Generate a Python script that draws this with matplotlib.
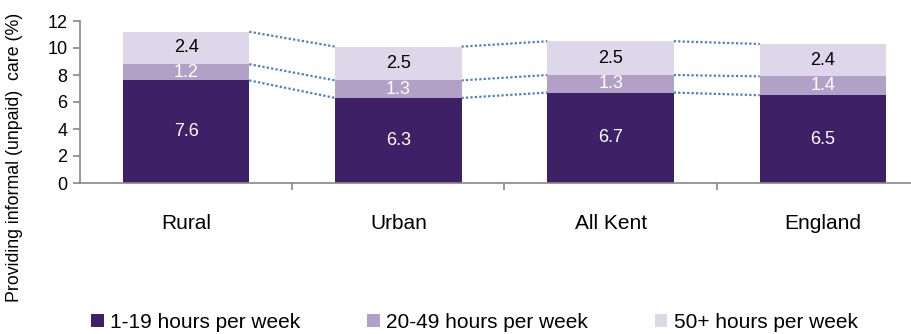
import matplotlib.pyplot as plt
import numpy as np

plt.rcParams['font.family'] = ['Liberation Sans', 'DejaVu Sans']

# stacked shares of people providing unpaid care, by area
areas = ['Rural', 'Urban', 'All Kent', 'England']
hrs_1_19 = [7.6, 6.3, 6.7, 6.5]
hrs_20_49 = [1.2, 1.3, 1.3, 1.4]
hrs_50_plus = [2.4, 2.5, 2.5, 2.4]
series_names = ['1-19 hours per week', '20-49 hours per week', '50+ hours per week']

colours = ['#3d2066', '#b1a1c7', '#ded7e9']
label_colours = ['white', 'white', 'black']

fig = plt.figure(figsize=(9.12, 3.34), dpi=100)
ax = fig.add_axes([80 / 912, 151 / 334, 1 - 80 / 912, 162 / 334])

x = np.arange(len(areas))
w = 0.595
bottoms = np.zeros(len(areas))
tops = []
for vals, col, tcol, name in zip([hrs_1_19, hrs_20_49, hrs_50_plus], colours, label_colours, series_names):
    vals = np.array(vals)
    ax.bar(x, vals, w, bottom=bottoms, color=col, label=name, zorder=2)
    for xi, b, v in zip(x, bottoms, vals):
        ax.text(xi, b + v / 2, f'{v:.1f}', ha='center', va='center', color=tcol, fontsize=13, zorder=3)
    bottoms = bottoms + vals
    tops.append(bottoms.copy())

# dotted series lines joining the bar edges
for lvl in tops:
    for i in range(len(areas) - 1):
        ax.plot([x[i] + w / 2, x[i + 1] - w / 2], [lvl[i], lvl[i + 1]],
                color='#4a7fc4', linestyle=(0, (1, 1)), linewidth=1.6, zorder=1)

ax.set_xlim(-0.5, 3.42)
ax.set_ylim(0, 12)
ax.set_yticks(range(0, 13, 2))
ax.set_xticks(x)
ax.set_xticklabels(areas, fontsize=15)
ax.set_xticks([0.5, 1.5, 2.5], minor=True)
ax.tick_params(axis='x', which='major', length=0, pad=22)
ax.tick_params(axis='x', which='minor', length=5, color='#888888', width=1.2)
ax.tick_params(axis='y', length=5, color='#888888', width=1.2, labelsize=13, pad=4)
for s in ['top', 'right']:
    ax.spines[s].set_visible(False)
for s in ['left', 'bottom']:
    ax.spines[s].set_color('#888888')
    ax.spines[s].set_linewidth(1.2)

fig.text(15 / 912, 0.53, 'Providing informal (unpaid)  care (%)', rotation=90,
         ha='center', va='center', fontsize=12.8)

fig.legend(loc='lower left', bbox_to_anchor=(72 / 912, -0.05), ncol=3, frameon=False,
           fontsize=15, handlelength=0.62, handleheight=0.62, handletextpad=0.3,
           columnspacing=3.2)

fig.savefig('out.png', dpi=100)
